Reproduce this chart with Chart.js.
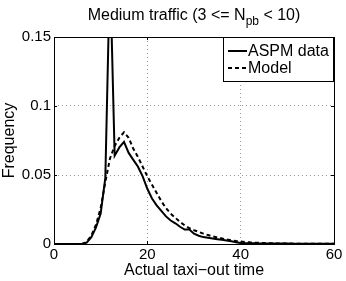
<!DOCTYPE html>
<html>
<head>
<meta charset="utf-8">
<script src="https://cdn.jsdelivr.net/npm/chart.js@4/dist/chart.umd.min.js"></script>
<style>
  html, body { margin: 0; padding: 0; background: #fff; }
  #wrap { width: 346px; height: 281px; }
</style>
</head>
<body>
<div id="wrap"><canvas id="grafico"></canvas></div>
<script>
// Tempo de taxi-out (minutos) - eixo X
const taxiTime = [0, 1, 2, 3, 4, 5, 6, 7, 8, 9, 10, 11, 12, 13, 14, 15, 16, 17, 18, 19, 20,
  21, 22, 23, 24, 25, 26, 27, 28, 29, 30, 31, 32, 33, 34, 35, 36, 37, 38, 39, 40,
  41, 42, 43, 44, 45, 46, 47, 48, 49, 50, 51, 52, 53, 54, 55, 56, 57, 58, 59, 60];

// Frequencia observada (ASPM)
const aspmData = [0, 0, 0, 0, 0, 0, 0, 0.001, 0.005, 0.012, 0.022, 0.048, 0.2, 0.064, 0.07, 0.074,
  0.066, 0.061, 0.056, 0.049, 0.04, 0.033, 0.028, 0.024, 0.02, 0.017, 0.015, 0.0125, 0.0105, 0.0105,
  0.0075, 0.006, 0.005, 0.0045, 0.004, 0.0035, 0.003, 0.0025, 0.002, 0.0012, 0.0007, 0.0006, 0.0005,
  0.0005, 0.0004, 0.0004, 0.0003, 0.0003, 0.0003, 0.0003, 0.0003, 0.0002, 0.0002, 0.0002, 0.0002,
  0.0002, 0.0002, 0.0001, 0.0001, 0.0001, 0.0001];

// Frequencia do modelo
const modelData = [0, 0, 0, 0, 0, 0, 0, 0.0015, 0.006, 0.014, 0.026, 0.045, 0.062, 0.071, 0.077, 0.081,
  0.077, 0.069, 0.063, 0.056, 0.049, 0.043, 0.037, 0.031, 0.026, 0.022, 0.019, 0.016, 0.0135, 0.0115,
  0.01, 0.0088, 0.0075, 0.0065, 0.0055, 0.0047, 0.004, 0.0033, 0.0027, 0.0022, 0.0018, 0.0015, 0.0012,
  0.001, 0.0008, 0.0007, 0.0006, 0.0005, 0.0004, 0.0004, 0.0003, 0.0003, 0.0002, 0.0002, 0.0002,
  0.0002, 0.0001, 0.0001, 0.0001, 0.0001, 0.0001];

const xTicks = [0, 20, 40, 60];
const yTicks = [0, 0.05, 0.1, 0.15];
const legendLabels = ['ASPM data', 'Model'];

const fonte = '"Liberation Sans", Arial, Helvetica, sans-serif';

// Plugin que desenha caixa, ticks internos, legenda e titulo com subscrito
const estiloMatlab = {
  id: 'estiloMatlab',
  afterDatasetsDraw(chart) {
    const ctx = chart.ctx;
    const a = chart.chartArea;
    const sx = chart.scales.x, sy = chart.scales.y;
    ctx.save();
    ctx.strokeStyle = '#000';
    ctx.lineWidth = 1;
    // caixa
    ctx.strokeRect(Math.round(a.left) + 0.5, Math.round(a.top) + 0.5,
      Math.round(a.right - a.left), Math.round(a.bottom - a.top));
    // ticks para dentro
    ctx.beginPath();
    xTicks.forEach(v => {
      const px = Math.round(sx.getPixelForValue(v)) + 0.5;
      ctx.moveTo(px, a.bottom); ctx.lineTo(px, a.bottom - 3);
      ctx.moveTo(px, a.top); ctx.lineTo(px, a.top + 3);
    });
    yTicks.forEach(v => {
      const py = Math.round(sy.getPixelForValue(v)) + 0.5;
      ctx.moveTo(a.left, py); ctx.lineTo(a.left + 3, py);
      ctx.moveTo(a.right, py); ctx.lineTo(a.right - 3, py);
    });
    ctx.stroke();

    // legenda
    const lw = 111, lh = 45;
    const lx = a.right - lw, ly = a.top;
    ctx.fillStyle = '#fff';
    ctx.fillRect(lx, ly, lw, lh);
    ctx.strokeRect(lx + 0.5, ly + 0.5, lw - 1, lh - 1);
    ctx.font = '16px ' + fonte;
    ctx.fillStyle = '#000';
    ctx.textBaseline = 'middle';
    ctx.textAlign = 'left';
    const dashes = [[], [4, 3]];
    legendLabels.forEach((txt, i) => {
      const yy = ly + 14 + i * 17;
      ctx.setLineDash(dashes[i]);
      ctx.lineWidth = 2;
      ctx.beginPath();
      ctx.moveTo(lx + 5, yy); ctx.lineTo(lx + 24, yy);
      ctx.stroke();
      ctx.setLineDash([]);
      ctx.fillText(txt, lx + 25, yy + 1);
    });

    // titulo
    const parte1 = 'Medium traffic (3 <= N';
    const sub = 'pb';
    const parte2 = ' < 10)';
    ctx.font = '16px ' + fonte;
    const w1 = ctx.measureText(parte1).width;
    const w3 = ctx.measureText(parte2).width;
    ctx.font = '12px ' + fonte;
    const w2 = ctx.measureText(sub).width;
    const total = w1 + w2 + w3;
    let tx = (a.left + a.right) / 2 - total / 2;
    const ty = 20;
    ctx.textBaseline = 'alphabetic';
    ctx.font = '16px ' + fonte;
    ctx.fillText(parte1, tx, ty);
    tx += w1;
    ctx.font = '12px ' + fonte;
    ctx.fillText(sub, tx, ty + 5);
    tx += w2;
    ctx.font = '16px ' + fonte;
    ctx.fillText(parte2, tx, ty);
    ctx.restore();
  }
};

function criarGrafico() {
  const ctx = document.getElementById('grafico').getContext('2d');
  return new Chart(ctx, {
    type: 'line',
    data: {
      datasets: [
        {
          label: legendLabels[0],
          data: taxiTime.map((t, i) => ({ x: t, y: aspmData[i] })),
          borderColor: '#000',
          borderWidth: 2,
          pointRadius: 0,
          tension: 0,
          fill: false
        },
        {
          label: legendLabels[1],
          data: taxiTime.map((t, i) => ({ x: t, y: modelData[i] })),
          borderColor: '#000',
          borderWidth: 2,
          borderDash: [4, 3],
          pointRadius: 0,
          tension: 0,
          fill: false
        }
      ]
    },
    options: {
      responsive: false,
      animation: false,
      devicePixelRatio: 1,
      layout: { padding: { left: 0, right: 12, top: 37, bottom: 0 } },
      plugins: {
        legend: { display: false },
        title: { display: false },
        tooltip: { enabled: false }
      },
      scales: {
        x: {
          type: 'linear',
          min: 0, max: 60,
          afterBuildTicks: s => { s.ticks = xTicks.map(v => ({ value: v })); },
          afterFit: s => { s.height = 37; },
          grid: {
            color: ctx => (ctx.tick && (ctx.tick.value === 0 || ctx.tick.value === 60)) ? 'rgba(0,0,0,0)' : '#999',
            drawTicks: false,
            lineWidth: 1
          },
          border: { display: false, dash: [1, 3] },
          ticks: { color: '#000', font: { family: fonte, size: 15 }, padding: 2, maxRotation: 0 },
          title: {
            display: true, text: 'Actual taxi−out time', color: '#000',
            font: { family: fonte, size: 16 }, padding: { top: 0, bottom: 1 }
          }
        },
        y: {
          min: 0, max: 0.15,
          afterBuildTicks: s => { s.ticks = yTicks.map(v => ({ value: v })); },
          afterFit: s => { s.width = 54; },
          grid: {
            color: ctx => (ctx.tick && (ctx.tick.value === 0 || ctx.tick.value === 0.15)) ? 'rgba(0,0,0,0)' : '#999',
            drawTicks: false,
            lineWidth: 1
          },
          border: { display: false, dash: [1, 3] },
          ticks: {
            color: '#000', font: { family: fonte, size: 15 }, padding: 3,
            callback: v => String(Number(v.toFixed(2)))
          },
          title: {
            display: true, text: 'Frequency', color: '#000',
            font: { family: fonte, size: 16 }, padding: { top: 0, bottom: 1 }
          }
        }
      }
    },
    plugins: [estiloMatlab]
  });
}

const canvas = document.getElementById('grafico');
canvas.width = 346;
canvas.height = 281;
criarGrafico();
</script>
</body>
</html>
